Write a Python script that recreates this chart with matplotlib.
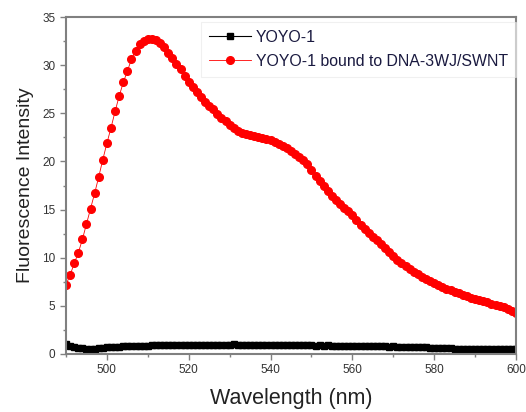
import numpy as np
import matplotlib
matplotlib.use("Agg")
import matplotlib.pyplot as plt
from matplotlib.ticker import MultipleLocator

wavelength = np.arange(490, 601, 1)

yoyo_bound = [
    7.2, 8.2, 9.4, 10.5, 11.9, 13.5, 15.1, 16.7, 18.4, 20.2,      # 490-499
    21.9, 23.5, 25.2, 26.8, 28.2, 29.4, 30.6, 31.5, 32.2, 32.5,   # 500-509
    32.7, 32.7, 32.6, 32.3, 31.9, 31.3, 30.7, 30.1, 29.6, 28.9,   # 510-519
    28.2, 27.7, 27.2, 26.7, 26.2, 25.8, 25.4, 24.9, 24.5, 24.2,   # 520-529
    23.8, 23.5, 23.2, 23.0, 22.8, 22.7, 22.6, 22.5, 22.4, 22.3,   # 530-539
    22.2, 22.0, 21.8, 21.6, 21.4, 21.1, 20.8, 20.5, 20.2, 19.7,   # 540-549
    19.1, 18.5, 18.0, 17.4, 16.9, 16.4, 16.0, 15.6, 15.2, 14.8,   # 550-559
    14.4, 13.9, 13.4, 13.0, 12.6, 12.2, 11.8, 11.4, 11.0, 10.6,   # 560-569
    10.2, 9.8, 9.5, 9.1, 8.8, 8.5, 8.3, 8.0, 7.8, 7.6,            # 570-579
    7.4, 7.2, 7.0, 6.8, 6.6, 6.45, 6.3, 6.15, 6.0, 5.85,          # 580-589
    5.7, 5.6, 5.5, 5.35, 5.2, 5.1, 5.0, 4.85, 4.7, 4.5,           # 590-599
    4.3,                                                          # 600
]

yoyo_free = [
    1.05, 0.8, 0.72, 0.65, 0.6, 0.55, 0.52, 0.55, 0.6, 0.62,      # 490-499
    0.68, 0.7, 0.72, 0.75, 0.78, 0.8, 0.85, 0.88, 0.85, 0.82,     # 500-509
    0.85, 0.9, 0.92, 0.9, 0.93, 0.95, 0.92, 0.94, 0.96, 0.93,     # 510-519
    0.95, 0.97, 0.94, 0.96, 0.98, 0.95, 0.97, 0.96, 0.98, 0.95,   # 520-529
    0.97, 0.99, 0.96, 0.98, 0.97, 0.95, 0.98, 0.96, 0.97, 0.95,   # 530-539
    0.96, 0.94, 0.96, 0.93, 0.95, 0.92, 0.94, 0.93, 0.91, 0.92,   # 540-549
    0.9, 0.88, 0.9, 0.87, 0.89, 0.86, 0.88, 0.85, 0.87, 0.84,     # 550-559
    0.85, 0.83, 0.84, 0.82, 0.8, 0.81, 0.79, 0.8, 0.78, 0.77,     # 560-569
    0.78, 0.76, 0.75, 0.74, 0.73, 0.72, 0.7, 0.69, 0.68, 0.66,    # 570-579
    0.65, 0.62, 0.6, 0.6, 0.58, 0.57, 0.56, 0.55, 0.55, 0.54,     # 580-589
    0.53, 0.52, 0.52, 0.51, 0.5, 0.5, 0.49, 0.48, 0.48, 0.47,     # 590-599
    0.47,                                                         # 600
]

plt.rcParams['font.family'] = ['Liberation Sans', 'DejaVu Sans']

fig = plt.figure(figsize=(5.26, 4.12), dpi=100)
ax = fig.add_axes([0.1255, 0.1408, 0.8555, 0.8179])

ax.plot(wavelength, yoyo_free, color='black', lw=0.8, marker='s',
        markersize=4, label='YOYO-1')
ax.plot(wavelength, yoyo_bound, color='red', lw=0.6, marker='o',
        markersize=5.5, label='YOYO-1 bound to DNA-3WJ/SWNT')

ax.set_xlim(490, 600)
ax.set_ylim(0, 35)
ax.xaxis.set_major_locator(MultipleLocator(20))
ax.xaxis.set_minor_locator(MultipleLocator(10))
ax.yaxis.set_major_locator(MultipleLocator(5))
ax.yaxis.set_minor_locator(MultipleLocator(2.5))

for s in ax.spines.values():
    s.set_color('#808080')
    s.set_linewidth(1.5)
ax.tick_params(which='major', direction='out', length=4, width=1, color='#808080',
               labelsize=8.5, labelcolor='#333333')
ax.tick_params(which='minor', direction='out', length=2.5, width=1, color='#808080')

ax.set_xlabel('Wavelength (nm)', fontsize=15.5, color='#222222', labelpad=8)
ax.set_ylabel('Fluorescence Intensity', fontsize=14, color='#222222', labelpad=6)

leg = ax.legend(loc='upper right', bbox_to_anchor=(1.0, 0.985), fontsize=11.4,
                frameon=True, fancybox=False, edgecolor='#e6e6e6', framealpha=0.6,
                handlelength=2.65, handletextpad=0.3, borderpad=0.5,
                labelspacing=0.55, borderaxespad=0.0)
leg.get_frame().set_linewidth(0.8)
for t in leg.get_texts():
    t.set_color('#1a1a40')

fig.savefig('out.png', dpi=100)
